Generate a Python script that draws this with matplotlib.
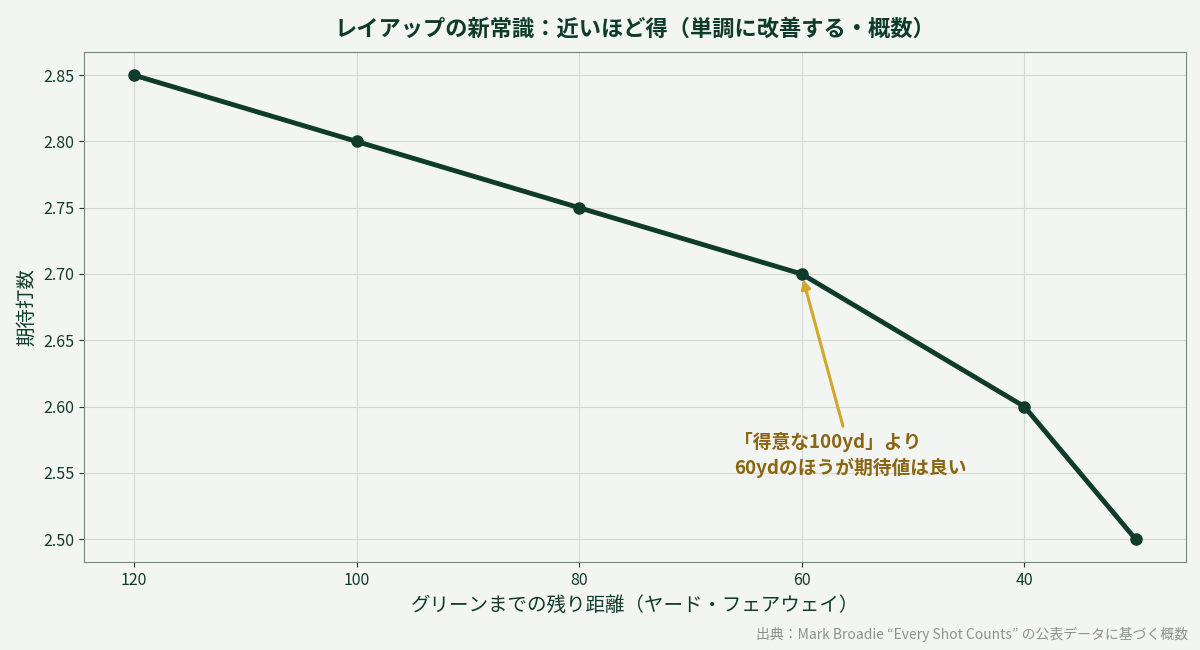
import matplotlib
matplotlib.use("Agg")
import matplotlib.pyplot as plt

plt.rcParams["font.family"] = ["Noto Sans CJK JP", "DejaVu Sans"]

# データ（概数）
distance = [120, 100, 80, 60, 40, 30]
expected = [2.85, 2.80, 2.75, 2.70, 2.60, 2.50]
yticks = [2.50, 2.55, 2.60, 2.65, 2.70, 2.75, 2.80, 2.85]

BG = "#f3f5f2"
DARK = "#0f3b2c"
GOLD = "#d4a62a"
GOLD_TXT = "#8a6512"

fig, ax = plt.subplots(figsize=(12, 6.5), dpi=100)
fig.patch.set_facecolor(BG)
ax.set_facecolor(BG)

ax.plot(distance, expected, color=DARK, lw=3.5, marker="o", ms=8, zorder=3)
ax.invert_xaxis()
ax.set_xticks([120, 100, 80, 60, 40])
ax.set_yticks(yticks)
ax.set_yticklabels([f"{v:.2f}" for v in yticks])
ax.grid(True, color="#d3d9d4", lw=0.8)
ax.set_axisbelow(True)
for s in ax.spines.values():
    s.set_color("#6f8a7c")
ax.tick_params(colors=DARK, labelsize=11.5)

ax.set_xlabel("グリーンまでの残り距離（ヤード・フェアウェイ）", fontsize=14, color=DARK)
ax.set_ylabel("期待打数", fontsize=14, color=DARK)
ax.set_title("レイアップの新常識：近いほど得（単調に改善する・概数）",
             fontsize=16, fontweight="bold", color=DARK, pad=12)

ax.annotate("「得意な100yd」より\n60ydのほうが期待値は良い",
            xy=(60, 2.70), xytext=(55.6, 2.581),
            ha="center", va="top", multialignment="left", linespacing=1.35,
            fontsize=13.5, fontweight="bold", color=GOLD_TXT,
            arrowprops=dict(arrowstyle="-|>", color=GOLD, lw=2.2,
                            shrinkA=2, shrinkB=4))

fig.text(0.99, 0.012, "出典：Mark Broadie “Every Shot Counts” の公表データに基づく概数",
         ha="right", va="bottom", fontsize=10, color="#8a948e")

fig.subplots_adjust(left=0.07, right=0.988, top=0.92, bottom=0.135)
fig.savefig("out.png", dpi=100, facecolor=BG)
